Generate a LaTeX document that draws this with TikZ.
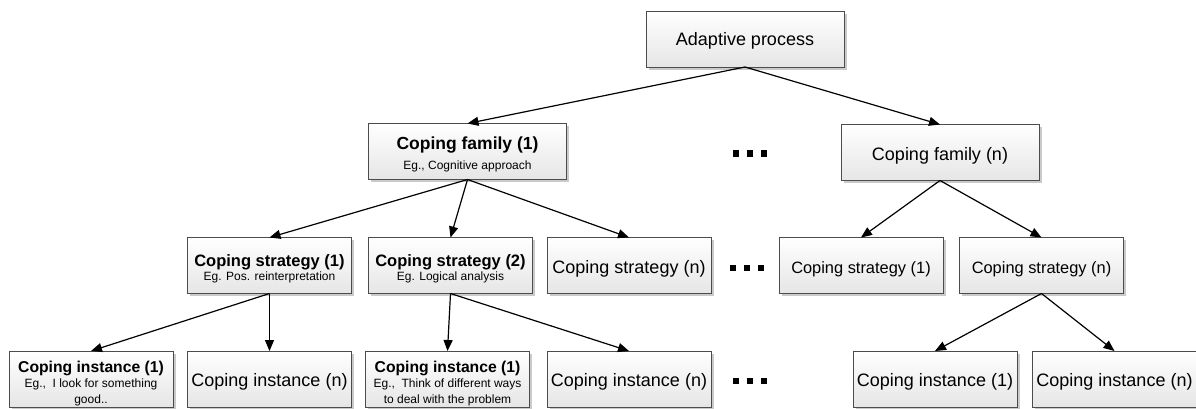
\documentclass[tikz,border=0pt]{standalone}
\usepackage{fontspec}
\setmainfont{Liberation Sans}
\usetikzlibrary{arrows.meta,shadows}

\tikzset{
  box/.style={draw=black!70, line width=0.9pt, rectangle, inner sep=0pt, outer sep=0pt,
    top color=white, bottom color=black!10,
    drop shadow={shadow xshift=2.5pt, shadow yshift=-2.5pt, fill=black!35, opacity=0.6},
    minimum height=56pt},
  wbox/.style={box, minimum width=198pt},
  nbox/.style={box, minimum width=164pt},
  link/.style={line width=1.2pt, -{Triangle[length=11pt,width=9pt]}},
  big/.style={anchor=base, inner sep=0pt, font=\fontsize{18}{20}\selectfont},
  mid/.style={anchor=base, inner sep=0pt, font=\fontsize{16.4}{18}\selectfont},
  small/.style={anchor=base, inner sep=0pt, font=\fontsize{12}{14}\selectfont},
  dot/.style={fill=black, inner sep=0pt, minimum size=6.5pt},
}

\begin{document}
\begin{tikzpicture}[x=1pt, y=-1pt]
\useasboundingbox (0,0) rectangle (1196,408);

% ---- boxes ----
\node[wbox] (ap)  at (745,39) {};
\node[wbox] (f1)  at (467.5,151.5) {};
\node[wbox] (fn)  at (940,152.5) {};

\node[nbox] (s1)  at (269.5,265.5) {};
\node[nbox] (s2)  at (450.5,265.5) {};
\node[nbox] (sn)  at (629,265.5) {};
\node[nbox] (rs1) at (861,265.5) {};
\node[nbox] (rsn) at (1041.5,265.5) {};

\node[nbox] (i1)  at (91,379) {};
\node[nbox] (in1) at (269.5,379) {};
\node[nbox] (i2)  at (447.5,379) {};
\node[nbox] (in2) at (629,379) {};
\node[nbox] (ri1) at (935,379) {};
\node[nbox] (rin) at (1114.5,379) {};

% ---- texts ----
\node[big] (tap) at (745,45) {Adaptive process};

\node[anchor=base, inner sep=0pt, font=\fontsize{17.5}{20}\selectfont\bfseries] (tf1a) at (467.5,149) {Coping family (1)};
\node[small] (tf1b) at (467.5,169.5) {Eg., Cognitive approach};
\node[big] (tfn) at (940,160) {Coping family (n)};

\node[anchor=base, inner sep=0pt, font=\fontsize{16.5}{18}\selectfont\bfseries] (ts1a) at (269.5,266) {Coping strategy (1)};
\node[small] (ts1b) at (269.5,280.5) {Eg. Pos. reinterpretation};
\node[anchor=base, inner sep=0pt, font=\fontsize{16.5}{18}\selectfont\bfseries] (ts2a) at (450.5,266) {Coping strategy (2)};
\node[small] (ts2b) at (450.5,280.5) {Eg. Logical analysis};
\node[big] (tsn) at (629,273) {Coping strategy (n)};
\node[mid] (trs1) at (861,273) {Coping strategy (1)};
\node[mid] (trsn) at (1041.5,273) {Coping strategy (n)};

\node[anchor=base, inner sep=0pt, font=\fontsize{15.7}{18}\selectfont\bfseries] (ti1a) at (91,372.3) {Coping instance (1)};
\node[small] (ti1b) at (91,387.7) {Eg.,\ \ I look for something};
\node[small] (ti1c) at (91,403) {good..};
\node[big] (tin1) at (269.5,386.5) {Coping instance (n)};
\node[anchor=base, inner sep=0pt, font=\fontsize{15.7}{18}\selectfont\bfseries] (ti2a) at (447.5,372.3) {Coping instance (1)};
\node[small] (ti2b) at (447.5,387.7) {Eg.,\ \ Think of different ways};
\node[small] (ti2c) at (447.5,403) {to deal with the problem};
\node[big] (tin2) at (629,386.5) {Coping instance (n)};
\node[big] (tri1) at (935,386.5) {Coping instance (1)};
\node[big] (trin) at (1114.5,386.5) {Coping instance (n)};

% ---- ellipsis markers ----
\foreach \r/\y/\dx in {a/153.5/0, b/268/-3, c/381/0}{
  \node[dot] (d\r1) at (736+\dx,\y) {};
  \node[dot] (d\r2) at (750+\dx,\y) {};
  \node[dot] (d\r3) at (764+\dx,\y) {};
}

% ---- connectors ----
\draw[link] (ap.south) -- (f1.north);
\draw[link] (ap.south) -- (fn.north);

\draw[link] (f1.south) -- (s1.north);
\draw[link] (f1.south) -- (s2.north);
\draw[link] (f1.south) -- (sn.north);

\draw[link] (fn.south) -- (rs1.north);
\draw[link] (fn.south) -- (rsn.north);

\draw[link] (s1.south) -- (i1.north);
\draw[link] (s1.south) -- (in1.north);

\draw[link] (s2.south) -- (i2.north);
\draw[link] (s2.south) -- (in2.north);

\draw[link] (rsn.south) -- (ri1.north);
\draw[link] (rsn.south) -- (rin.north);
\end{tikzpicture}
\end{document}
